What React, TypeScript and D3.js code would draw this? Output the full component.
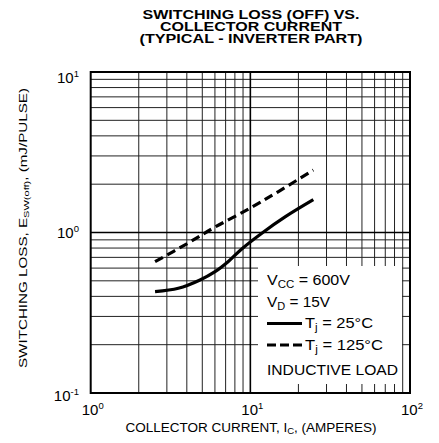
import React from "react";
import * as d3 from "d3";

const titleLines = ["SWITCHING LOSS (OFF) VS.", "COLLECTOR CURRENT", "(TYPICAL - INVERTER PART)"];
const titleWidths = [217, 182, 223];
const xDomain = [1, 100];
const yDomain = [0.1, 10];
const xTickExps = [0, 1, 2];
const yTickExps = [-1, 0, 1];

const ic25 = [2.53, 3.54, 4.84, 6.01, 7.28, 8.83, 11.8, 16.5, 24.8];
const e25 = [0.428, 0.449, 0.506, 0.57, 0.66, 0.79, 0.99, 1.25, 1.6];
const ic125 = [2.53, 4.0, 6.0, 10.0, 15.0, 24.8];
const e125 = [0.658, 0.85, 1.08, 1.42, 1.8, 2.45];

export default function App() {
  const W = 439, H = 443;
  const left = 90.7, right = 410, top = 72, bottom = 393;
  const x = d3.scaleLog().domain(xDomain).range([left, right]);
  const y = d3.scaleLog().domain(yDomain).range([bottom, top]);

  const xGrid: number[] = [];
  for (let d = 1; d < 100; d *= 10) for (let k = 2; k <= 9; k++) xGrid.push(d * k);
  const yGrid: number[] = [];
  for (let d = 0.1; d < 10; d *= 10) for (let k = 2; k <= 9; k++) yGrid.push(d * k);

  const line = d3
    .line<[number, number]>()
    .x((d) => x(d[0]))
    .y((d) => y(d[1]))
    .curve(d3.curveCatmullRom.alpha(0.5));

  const s25 = line(ic25.map((v, i) => [v, e25[i]]) as [number, number][]) || "";
  const s125 = line(ic125.map((v, i) => [v, e125[i]]) as [number, number][]) || "";

  const lgX0 = 258, lgX1 = 402, lgY0 = 266, lgY1 = 384;
  const font = "'Liberation Sans', Arial, Helvetica, sans-serif";
  const yLabelOffset = (e: number) => (e === 1 ? 11 : e === 0 ? 5.5 : 8);

  return (
    <svg width={W} height={H} style={{ position: "absolute", left: 0, top: 0 }} fontFamily={font}>
      <rect width={W} height={H} fill="white" />
      <text fontWeight="bold" fontSize={12.5}>
        {titleLines.map((t, i) => (
          <tspan
            key={i}
            x={251 - titleWidths[i] / 2}
            y={18.5 + i * 12.4}
            textLength={titleWidths[i]}
            lengthAdjust="spacingAndGlyphs"
          >
            {t}
          </tspan>
        ))}
      </text>
      {xGrid.map((v) => (
        <line key={"x" + v} x1={x(v)} x2={x(v)} y1={top} y2={bottom} stroke="#222" strokeWidth={1} />
      ))}
      {yGrid.map((v) => (
        <line key={"y" + v} x1={left} x2={right} y1={y(v)} y2={y(v)} stroke="#222" strokeWidth={1} />
      ))}
      <line x1={x(10)} x2={x(10)} y1={top} y2={bottom} stroke="#000" strokeWidth={1.6} />
      <line x1={left} x2={right} y1={y(1)} y2={y(1)} stroke="#000" strokeWidth={1.6} />
      <rect x={lgX0} y={lgY0} width={lgX1 - lgX0} height={lgY1 - lgY0} fill="white" />
      <rect x={left} y={top} width={right - left} height={bottom - top} fill="none" stroke="#000" strokeWidth={2} />
      <path d={s25} fill="none" stroke="#000" strokeWidth={3.2} />
      <path d={s125} fill="none" stroke="#000" strokeWidth={3.2} strokeDasharray="9,5" />
      {/* legend */}
      <text x={267} y={285} fontSize={14} textLength={83} lengthAdjust="spacingAndGlyphs">
        V<tspan fontSize={10} dy={3}>CC</tspan>
        <tspan dy={-3}> = 600V</tspan>
      </text>
      <text x={267} y={306.5} fontSize={14} textLength={63} lengthAdjust="spacingAndGlyphs">
        V<tspan fontSize={10} dy={3}>D</tspan>
        <tspan dy={-3}> = 15V</tspan>
      </text>
      <line x1={267} x2={302} y1={323.5} y2={323.5} stroke="#000" strokeWidth={3.2} />
      <text x={305} y={328} fontSize={14} textLength={68} lengthAdjust="spacingAndGlyphs">
        T<tspan fontSize={10} dy={3}>j</tspan>
        <tspan dy={-3}> = 25°C</tspan>
      </text>
      <line x1={267} x2={302} y1={345} y2={345} stroke="#000" strokeWidth={3.2} strokeDasharray="9,4" />
      <text x={305} y={349.5} fontSize={14} textLength={78} lengthAdjust="spacingAndGlyphs">
        T<tspan fontSize={10} dy={3}>j</tspan>
        <tspan dy={-3}> = 125°C</tspan>
      </text>
      <text x={267} y={375} fontSize={14} textLength={131} lengthAdjust="spacingAndGlyphs">
        INDUCTIVE LOAD
      </text>
      {yTickExps.map((e) => (
        <text key={"yt" + e} x={79} y={y(Math.pow(10, e)) + yLabelOffset(e)} textAnchor="end" fontSize={15}>
          10
          <tspan fontSize={9.5} dy={-6}>{e}</tspan>
        </text>
      ))}
      {xTickExps.map((e) => (
        <text key={"xt" + e} x={x(Math.pow(10, e)) - 9} y={415} fontSize={15}>
          10
          <tspan fontSize={9.5} dy={-6}>{e}</tspan>
        </text>
      ))}
      <text x={251 - 125.5} y={431.7} fontSize={12} textLength={251} lengthAdjust="spacingAndGlyphs">
        COLLECTOR CURRENT, I<tspan fontSize={8.5} dy={2}>C</tspan>
        <tspan dy={-2}>, (AMPERES)</tspan>
      </text>
      <text
        transform={`translate(27,228) rotate(-90)`}
        x={-140}
        y={0}
        fontSize={11}
        textLength={280}
        lengthAdjust="spacingAndGlyphs"
      >
        SWITCHING LOSS, E<tspan fontSize={8} dy={2}>SW(off)</tspan>
        <tspan dy={-2}>, (mJ/PULSE)</tspan>
      </text>
    </svg>
  );
}
